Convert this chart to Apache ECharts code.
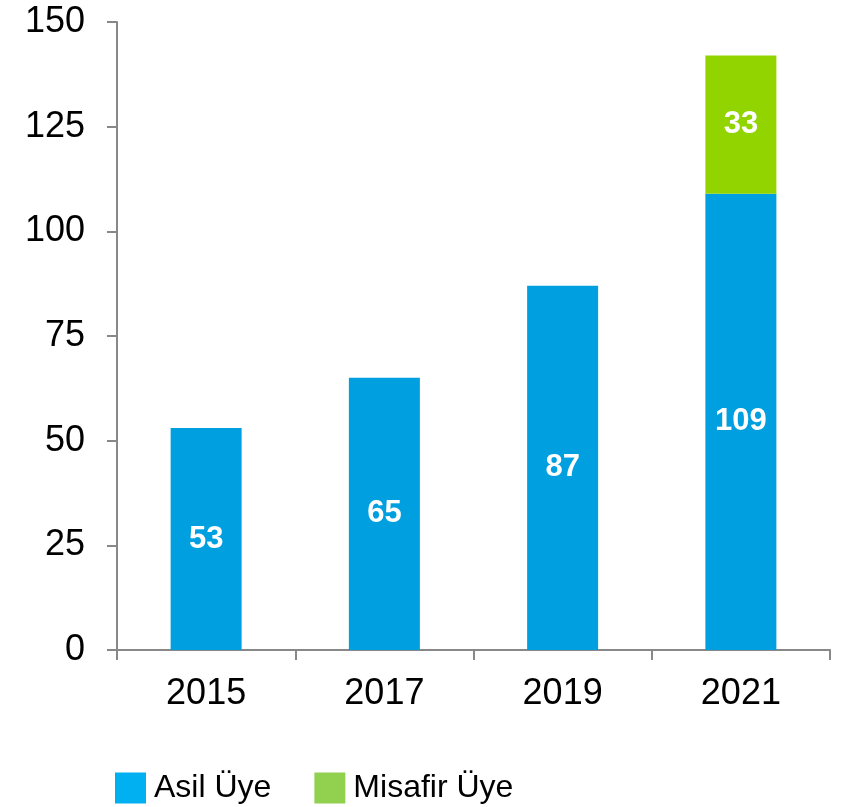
<!DOCTYPE html>
<html><head><meta charset="utf-8">
<script src="https://cdn.jsdelivr.net/npm/echarts@6/dist/echarts.min.js"></script>
<style>html,body{margin:0;padding:0;background:#fff}#c{width:841px;height:807px}</style>
</head><body><div id="c"></div>
<script>
const categories = ['2015', '2017', '2019', '2021'];
const asilUye = [53, 65, 87, 109];
const misafirUye = [null, null, null, 33];
const seriesNames = ['Asil Üye', 'Misafir Üye'];

const FONT = '"Liberation Sans", Arial, sans-serif';
const chart = echarts.init(document.getElementById('c'));
const lbl = { show: true, position: 'inside', color: '#fff', fontWeight: 'bold', fontSize: 31, fontFamily: FONT };
chart.setOption({
  animation: false,
  grid: { left: 117, right: 11, top: 22, bottom: 157 },
  legend: {
    left: 110, top: 767, itemWidth: 31, itemHeight: 31, itemGap: 43,
    textStyle: { fontSize: 32, fontFamily: FONT, color: '#000', padding: [0, 0, 0, 3] },
    data: [
      { name: seriesNames[0], icon: 'rect', itemStyle: { color: '#00B0F0' } },
      { name: seriesNames[1], icon: 'rect', itemStyle: { color: '#92D050' } }
    ]
  },
  xAxis: {
    type: 'category', data: categories,
    axisLine: { lineStyle: { color: '#888', width: 2 } },
    axisTick: { show: true, length: 10, lineStyle: { color: '#888', width: 2 } },
    axisLabel: { fontSize: 36, fontFamily: FONT, color: '#000', margin: 26 }
  },
  yAxis: {
    type: 'value', min: 0, max: 150, interval: 25,
    axisLine: { show: true, lineStyle: { color: '#888', width: 2 } },
    axisTick: { show: true, length: 10, lineStyle: { color: '#888', width: 2 } },
    splitLine: { show: false },
    axisLabel: { fontSize: 36, fontFamily: FONT, color: '#000', margin: 32 }
  },
  series: [
    { name: seriesNames[0], type: 'bar', stack: 't', data: asilUye, barWidth: 71,
      itemStyle: { color: '#009FDF' }, label: lbl },
    { name: seriesNames[1], type: 'bar', stack: 't', data: misafirUye, barWidth: 71,
      itemStyle: { color: '#92D400' }, label: lbl }
  ]
});
</script></body></html>
